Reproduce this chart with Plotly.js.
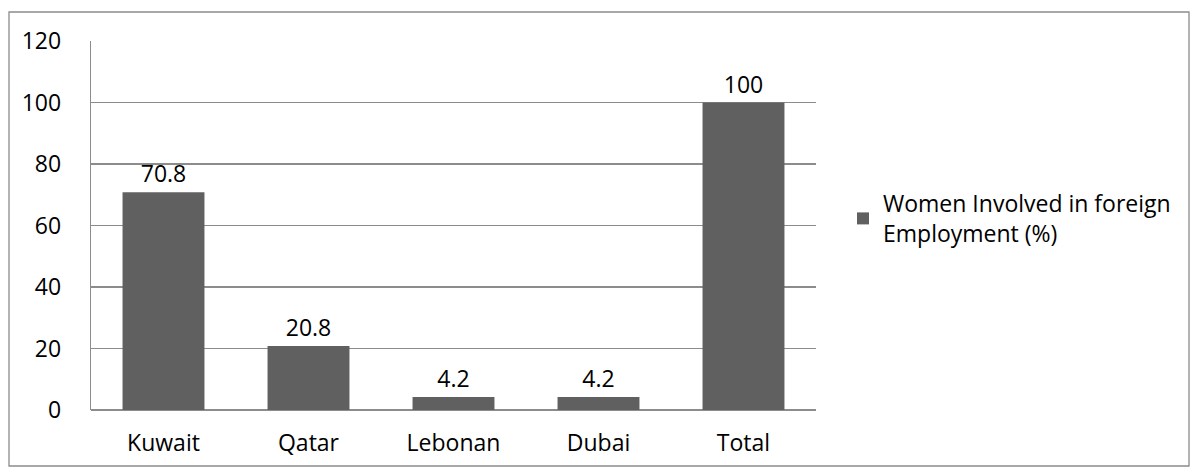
<!DOCTYPE html>
<html>
<head>
<meta charset="utf-8">
<script src="https://cdn.plot.ly/plotly-3.0.1.min.js"></script>
<style>html,body{margin:0;padding:0;background:#fff;}#chart{width:1194px;height:470px;}</style>
</head>
<body>
<div id="chart"></div>
<script>
const categories = ["Kuwait", "Qatar", "Lebonan", "Dubai", "Total"];
const values = [70.8, 20.8, 4.2, 4.2, 100];
const valueLabels = ["70.8", "20.8", "4.2", "4.2", "100"];
const seriesName = "Women Involved in foreign<br>Employment (%)";
const yTicks = [0, 20, 40, 60, 80, 100, 120];

const FONT = {family: "Open Sans, Lato, sans-serif", size: 23, color: "#000"};
const L = 91, R = 816, T = 41, B = 410, W = 1194, H = 470;
const px = x => (x - L) / (R - L);
const py = y => (B - y) / (B - T);

const trace = {
  type: "bar",
  x: categories,
  y: values,
  name: seriesName,
  text: valueLabels,
  textposition: "outside",
  textfont: FONT,
  cliponaxis: false,
  marker: {color: "#606060"},
  showlegend: true
};

const layout = {
  width: W, height: H,
  margin: {l: L, r: W - R, t: T, b: H - B},
  paper_bgcolor: "#fff",
  plot_bgcolor: "#fff",
  font: FONT,
  bargap: 0.435,
  showlegend: true,
  xaxis: {
    showgrid: false, zeroline: false, showline: false,
    ticks: "outside", ticklen: 12, tickcolor: "rgba(0,0,0,0)",
    tickfont: FONT
  },
  yaxis: {
    range: [0, 120],
    tickvals: yTicks,
    ticktext: yTicks.map(String),
    showgrid: true, gridcolor: "#8c8c8c", gridwidth: 1.3,
    zeroline: true, zerolinecolor: "#8c8c8c", zerolinewidth: 1.3,
    showline: true, linecolor: "#8c8c8c", linewidth: 1.3,
    ticks: "outside", ticklen: 24, tickcolor: "rgba(0,0,0,0)",
    tickfont: FONT
  },
  legend: {
    x: px(843), y: py(182), xanchor: "left", yanchor: "top",
    font: FONT, bgcolor: "rgba(0,0,0,0)", itemwidth: 30, tracegroupgap: 0
  },
  shapes: [{
    type: "rect", xref: "paper", yref: "paper",
    x0: px(9), x1: px(1189), y0: py(12), y1: py(466),
    line: {color: "#8c8c8c", width: 1.3}
  }]
};

Plotly.newPlot("chart", [trace], layout, {displayModeBar: false, staticPlot: true});
</script>
</body>
</html>
